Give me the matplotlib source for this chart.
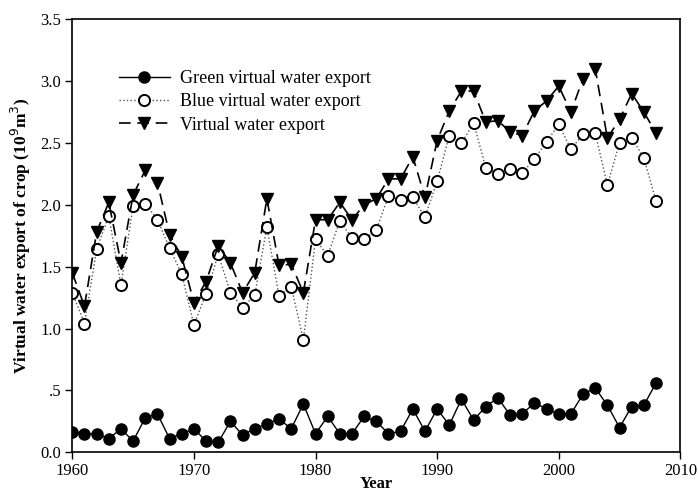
import numpy as np
import matplotlib.pyplot as plt
from matplotlib.ticker import FuncFormatter

plt.rcParams['font.family'] = ['Liberation Serif', 'DejaVu Serif']

years = np.arange(1960, 2009)

green = [0.16, 0.15, 0.15, 0.11, 0.19, 0.09, 0.28, 0.31, 0.11, 0.15,
         0.19, 0.09, 0.08, 0.25, 0.14, 0.19, 0.23, 0.27, 0.19, 0.39,
         0.15, 0.29, 0.15, 0.15, 0.29, 0.25, 0.15, 0.17, 0.35, 0.17,
         0.35, 0.22, 0.43, 0.26, 0.37, 0.44, 0.30, 0.31, 0.40, 0.35,
         0.31, 0.31, 0.47, 0.52, 0.38, 0.20, 0.37, 0.38, 0.56]

blue = [1.29, 1.04, 1.64, 1.91, 1.35, 1.99, 2.01, 1.88, 1.65, 1.44,
        1.03, 1.28, 1.60, 1.29, 1.17, 1.27, 1.82, 1.26, 1.34, 0.91,
        1.72, 1.59, 1.87, 1.73, 1.72, 1.80, 2.07, 2.04, 2.06, 1.90,
        2.19, 2.56, 2.50, 2.66, 2.30, 2.25, 2.29, 2.26, 2.37, 2.51,
        2.65, 2.45, 2.57, 2.58, 2.16, 2.50, 2.54, 2.38, 2.03]

total = [1.45, 1.18, 1.78, 2.02, 1.53, 2.08, 2.28, 2.18, 1.76, 1.58,
         1.21, 1.38, 1.67, 1.53, 1.29, 1.45, 2.05, 1.51, 1.52, 1.29,
         1.88, 1.88, 2.02, 1.88, 2.00, 2.05, 2.21, 2.21, 2.39, 2.06,
         2.52, 2.76, 2.92, 2.92, 2.67, 2.68, 2.59, 2.56, 2.76, 2.84,
         2.96, 2.75, 3.02, 3.10, 2.54, 2.69, 2.90, 2.75, 2.58]

fig = plt.figure(figsize=(6.98, 4.93), dpi=100)
ax = fig.add_axes([0.1036, 0.0826, 0.8711, 0.8783])

ax.plot(years, green, '-', color='black', lw=1.0, marker='o', ms=8,
        mfc='black', mec='black', label='Green virtual water export')
ax.plot(years, blue, ':', color='#555555', lw=1.0, marker='o', ms=8,
        mfc='white', mec='black', mew=1.4, label='Blue virtual water export')
ax.plot(years, total, color='black', lw=1.2, dashes=(7, 4), marker='v', ms=9,
        mfc='black', mec='black', label='Virtual water export')

ax.set_xlim(1960, 2010)
ax.set_ylim(0, 3.5)
ax.set_xticks(np.arange(1960, 2011, 10))
ax.set_yticks(np.arange(0, 3.51, 0.5))


def yfmt(v, pos):
    s = '%.1f' % v
    return '.5' if s == '0.5' else s


ax.yaxis.set_major_formatter(FuncFormatter(yfmt))
ax.tick_params(direction='out', length=5, width=1, labelsize=12, pad=3)
for sp in ax.spines.values():
    sp.set_linewidth(1.2)

ax.set_xlabel('Year', fontsize=12, fontweight='bold', labelpad=-2.5)
ax.set_ylabel('Virtual water export of crop (10$^9$m$^3$)', fontsize=12.5,
              fontweight='bold', labelpad=5)

ax.legend(loc='upper left', bbox_to_anchor=(0.05, 0.92), frameon=False,
          fontsize=13, handlelength=2.8, labelspacing=0.35, handletextpad=0.6)

fig.savefig('out.png', dpi=100)
